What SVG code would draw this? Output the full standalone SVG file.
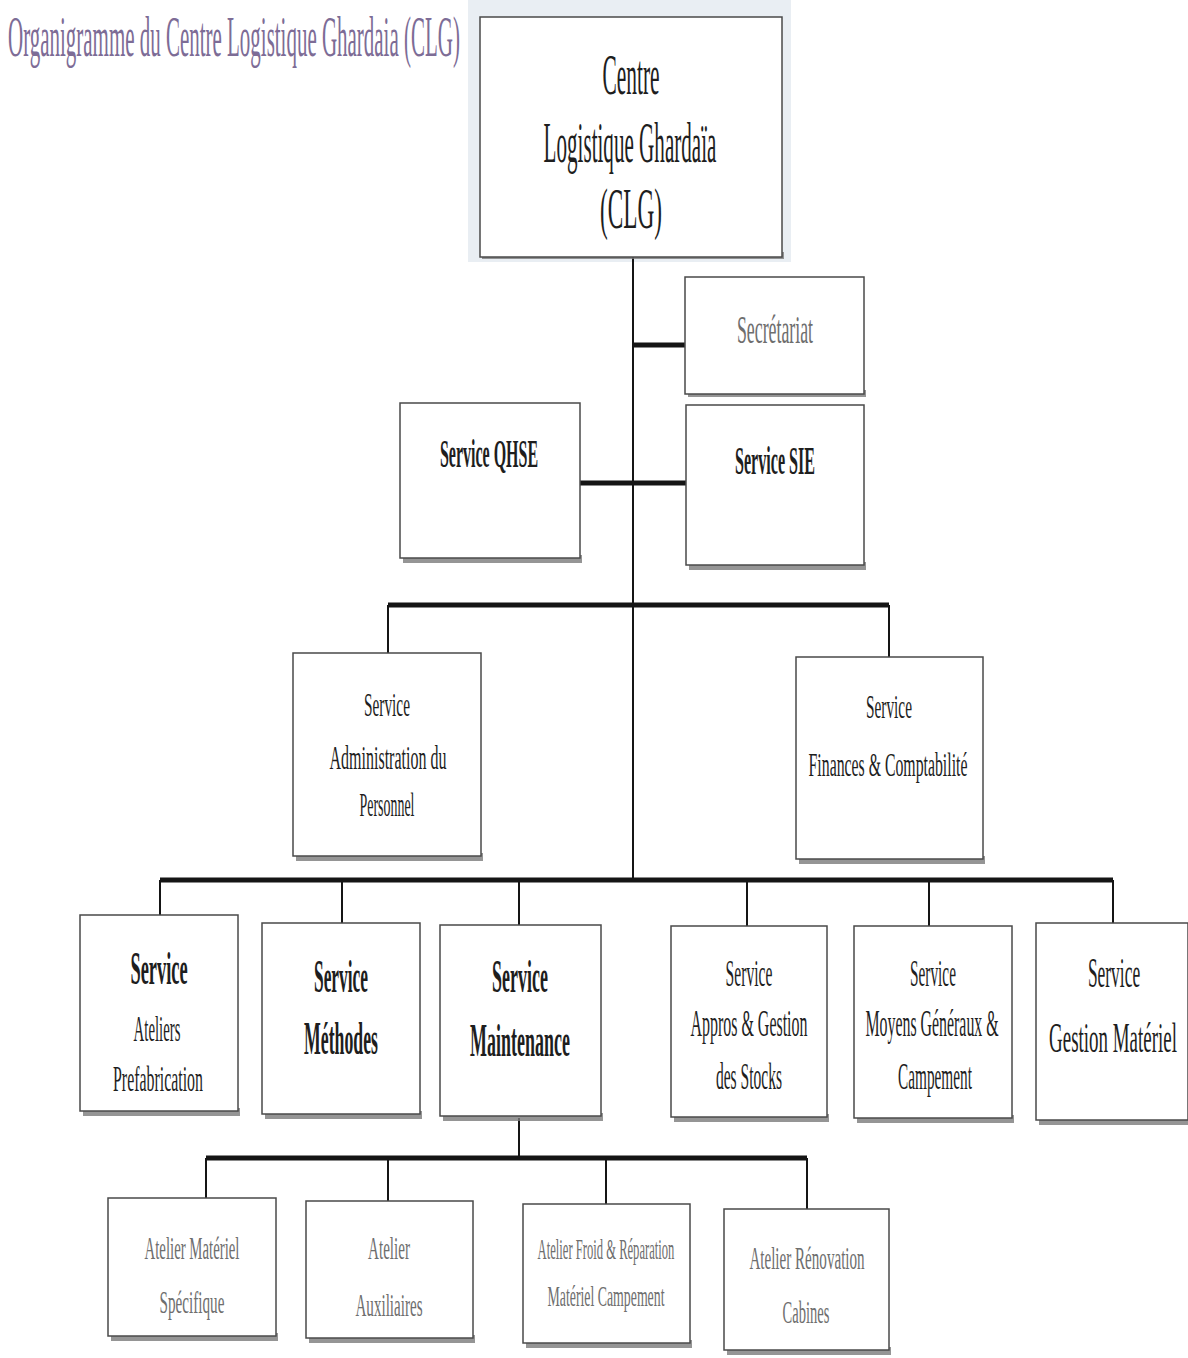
<svg xmlns="http://www.w3.org/2000/svg" width="1188" height="1358" viewBox="0 0 1188 1358">
<style>
.bg{fill:#ffffff}
.shadow{fill:#7a7a7a;opacity:0.8}
.box{fill:#ffffff;stroke:#4a4a4a;stroke-width:1.5}
.t{font-family:"Liberation Serif","Times New Roman",serif;text-anchor:middle;fill:#1e1e1e}
.b{font-weight:bold}
.lt{fill:#6e6e6e}
.thin{stroke:#151515;stroke-width:2;fill:none}
.thick{stroke:#151515;stroke-width:5;fill:none}
.title{font-family:"Liberation Serif","Times New Roman",serif;fill:#7d6c96}
</style>
<rect class="bg" x="0" y="0" width="1188" height="1358"/>
<rect x="468" y="0" width="323" height="262" fill="#e9eef3"/>
<text class="title" transform="translate(8,56) scale(0.375,1)" font-size="56" textLength="1205" lengthAdjust="spacingAndGlyphs">Organigramme du Centre Logistique Ghardaia (CLG)</text>

<g id="connectors">
<path class="thin" d="M633 257 V880"/>
<path class="thick" d="M633 345 H686"/>
<path class="thick" d="M580 483 H686"/>
<path class="thick" d="M388 605 H889"/>
<path class="thin" d="M388 605 V655 M889 605 V660"/>
<path class="thick" d="M160 880 H1113"/>
<path class="thin" d="M160 880 V916 M342 880 V924 M519 880 V926 M747 880 V927 M929 880 V927 M1113 880 V924"/>
<path class="thin" d="M519 1118 V1158"/>
<path class="thick" d="M206 1158 H807"/>
<path class="thin" d="M206 1158 V1199 M388 1158 V1202 M606 1158 V1205 M807 1158 V1210"/>
</g>

<g id="clg">
<rect class="shadow" x="482" y="252" width="302" height="7"/>
<rect class="box" x="480" y="17" width="302" height="240"/>
<text class="t" transform="translate(631,94) scale(0.45,1)" font-size="58" textLength="127" lengthAdjust="spacingAndGlyphs">Centre</text>
<text class="t" transform="translate(630,162) scale(0.45,1)" font-size="58" textLength="384" lengthAdjust="spacingAndGlyphs">Logistique Ghardaïa</text>
<text class="t" transform="translate(631,228) scale(0.45,1)" font-size="58" textLength="138" lengthAdjust="spacingAndGlyphs">(CLG)</text>
</g>

<g id="secretariat">
<rect class="shadow" x="688" y="390" width="178" height="7"/>
<rect class="box" x="685" y="277" width="179" height="117"/>
<text class="t lt" transform="translate(775,343) scale(0.45,1)" font-size="40" textLength="169" lengthAdjust="spacingAndGlyphs">Secrétariat</text>
</g>

<g id="sie">
<rect class="shadow" x="689" y="562" width="177" height="8"/>
<rect class="box" x="686" y="405" width="178" height="160"/>
<text class="t b" transform="translate(775,474) scale(0.45,1)" font-size="40" textLength="178" lengthAdjust="spacingAndGlyphs">Service SIE</text>
</g>

<g id="qhse">
<rect class="shadow" x="403" y="555" width="179" height="8"/>
<rect class="box" x="400" y="403" width="180" height="155"/>
<text class="t b" transform="translate(489,467) scale(0.45,1)" font-size="40" textLength="218" lengthAdjust="spacingAndGlyphs">Service QHSE</text>
</g>

<g id="admin">
<rect class="shadow" x="296" y="853" width="187" height="8"/>
<rect class="box" x="293" y="653" width="188" height="203"/>
<text class="t" transform="translate(387,716) scale(0.45,1)" font-size="34" textLength="102" lengthAdjust="spacingAndGlyphs">Service</text>
<text class="t" transform="translate(388,769) scale(0.45,1)" font-size="34" textLength="260" lengthAdjust="spacingAndGlyphs">Administration du</text>
<text class="t" transform="translate(387,816) scale(0.45,1)" font-size="34" textLength="122" lengthAdjust="spacingAndGlyphs">Personnel</text>
</g>

<g id="finances">
<rect class="shadow" x="799" y="856" width="186" height="8"/>
<rect class="box" x="796" y="657" width="187" height="202"/>
<text class="t" transform="translate(889,718) scale(0.45,1)" font-size="34" textLength="102" lengthAdjust="spacingAndGlyphs">Service</text>
<text class="t" transform="translate(888,776) scale(0.45,1)" font-size="34" textLength="353" lengthAdjust="spacingAndGlyphs">Finances &amp; Comptabilité</text>
</g>

<g id="ateliers-prefab">
<rect class="shadow" x="83" y="1108" width="157" height="8"/>
<rect class="box" x="80" y="915" width="158" height="196"/>
<text class="t b" transform="translate(159,984) scale(0.45,1)" font-size="46" textLength="127" lengthAdjust="spacingAndGlyphs">Service</text>
<text class="t" transform="translate(157,1041) scale(0.45,1)" font-size="36" textLength="104" lengthAdjust="spacingAndGlyphs">Ateliers</text>
<text class="t" transform="translate(158,1091) scale(0.45,1)" font-size="36" textLength="200" lengthAdjust="spacingAndGlyphs">Prefabrication</text>
</g>

<g id="methodes">
<rect class="shadow" x="265" y="1111" width="157" height="8"/>
<rect class="box" x="262" y="923" width="158" height="191"/>
<text class="t b" transform="translate(341,992) scale(0.45,1)" font-size="46" textLength="120" lengthAdjust="spacingAndGlyphs">Service</text>
<text class="t b" transform="translate(341,1054) scale(0.45,1)" font-size="46" textLength="164" lengthAdjust="spacingAndGlyphs">Méthodes</text>
</g>

<g id="maintenance">
<rect class="shadow" x="443" y="1113" width="160" height="8"/>
<rect class="box" x="440" y="925" width="161" height="191"/>
<text class="t b" transform="translate(520,992) scale(0.45,1)" font-size="46" textLength="124" lengthAdjust="spacingAndGlyphs">Service</text>
<text class="t b" transform="translate(520,1056) scale(0.45,1)" font-size="46" textLength="222" lengthAdjust="spacingAndGlyphs">Maintenance</text>
</g>

<g id="appros">
<rect class="shadow" x="674" y="1114" width="155" height="8"/>
<rect class="box" x="671" y="926" width="156" height="191"/>
<text class="t" transform="translate(749,986) scale(0.45,1)" font-size="38" textLength="104" lengthAdjust="spacingAndGlyphs">Service</text>
<text class="t" transform="translate(749,1036) scale(0.45,1)" font-size="38" textLength="260" lengthAdjust="spacingAndGlyphs">Appros &amp; Gestion</text>
<text class="t" transform="translate(749,1089) scale(0.45,1)" font-size="38" textLength="147" lengthAdjust="spacingAndGlyphs">des Stocks</text>
</g>

<g id="moyens">
<rect class="shadow" x="857" y="1115" width="157" height="8"/>
<rect class="box" x="854" y="926" width="158" height="192"/>
<text class="t" transform="translate(933,986) scale(0.45,1)" font-size="38" textLength="102" lengthAdjust="spacingAndGlyphs">Service</text>
<text class="t" transform="translate(932,1036) scale(0.45,1)" font-size="38" textLength="296" lengthAdjust="spacingAndGlyphs">Moyens Généraux &amp;</text>
<text class="t" transform="translate(935,1089) scale(0.45,1)" font-size="38" textLength="164" lengthAdjust="spacingAndGlyphs">Campement</text>
</g>

<g id="gestion-materiel">
<rect class="shadow" x="1039" y="1117" width="149" height="8"/>
<rect class="box" x="1036" y="923" width="152" height="197"/>
<text class="t" transform="translate(1114,987) scale(0.45,1)" font-size="42" textLength="116" lengthAdjust="spacingAndGlyphs">Service</text>
<text class="t" transform="translate(1113,1052) scale(0.45,1)" font-size="42" textLength="284" lengthAdjust="spacingAndGlyphs">Gestion Matériel</text>
</g>

<g id="atelier-specifique">
<rect class="shadow" x="111" y="1333" width="167" height="8"/>
<rect class="box" x="108" y="1198" width="168" height="138"/>
<text class="t lt" transform="translate(192,1259) scale(0.45,1)" font-size="32" textLength="211" lengthAdjust="spacingAndGlyphs">Atelier Matériel</text>
<text class="t lt" transform="translate(192,1313) scale(0.45,1)" font-size="32" textLength="144" lengthAdjust="spacingAndGlyphs">Spécifique</text>
</g>

<g id="atelier-auxiliaires">
<rect class="shadow" x="309" y="1335" width="166" height="8"/>
<rect class="box" x="306" y="1201" width="167" height="137"/>
<text class="t lt" transform="translate(389,1259) scale(0.45,1)" font-size="32" textLength="93" lengthAdjust="spacingAndGlyphs">Atelier</text>
<text class="t lt" transform="translate(389,1316) scale(0.45,1)" font-size="32" textLength="149" lengthAdjust="spacingAndGlyphs">Auxiliaires</text>
</g>

<g id="atelier-froid">
<rect class="shadow" x="526" y="1340" width="166" height="8"/>
<rect class="box" x="523" y="1204" width="167" height="139"/>
<text class="t lt" transform="translate(606,1259) scale(0.45,1)" font-size="29" textLength="304" lengthAdjust="spacingAndGlyphs">Atelier Froid &amp; Réparation</text>
<text class="t lt" transform="translate(606,1306) scale(0.45,1)" font-size="29" textLength="260" lengthAdjust="spacingAndGlyphs">Matériel Campement</text>
</g>

<g id="atelier-renovation">
<rect class="shadow" x="727" y="1347" width="164" height="8"/>
<rect class="box" x="724" y="1209" width="165" height="141"/>
<text class="t lt" transform="translate(807,1269) scale(0.45,1)" font-size="32" textLength="256" lengthAdjust="spacingAndGlyphs">Atelier Rénovation</text>
<text class="t lt" transform="translate(806,1323) scale(0.45,1)" font-size="32" textLength="104" lengthAdjust="spacingAndGlyphs">Cabines</text>
</g>
</svg>
